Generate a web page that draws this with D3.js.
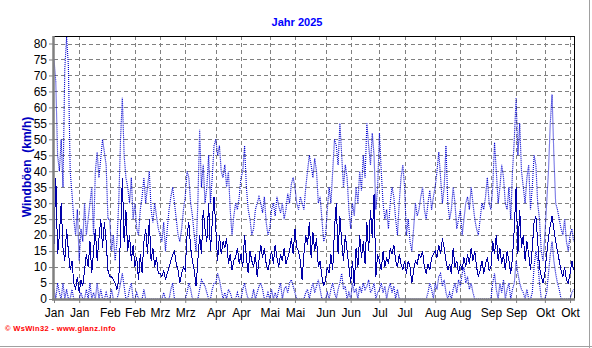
<!DOCTYPE html>
<html><head><meta charset="utf-8">
<script src="https://cdn.jsdelivr.net/npm/d3@7/dist/d3.min.js"></script>
<style>
html,body{margin:0;padding:0;background:#fff;}
svg{display:block;font-family:"Liberation Sans",Arial,sans-serif;}
</style></head>
<body>
<script>
const title = "Jahr 2025";
const yLabel = "Windböen  (km/h)";
const footer = "© WsWin32 - www.glanz.info";
const startDate = "2025-01-01";
const yTicks = [0,5,10,15,20,25,30,35,40,45,50,55,60,65,70,75,80];
const xTickDates = ["2025-01-01","2025-01-15","2025-02-01","2025-02-15","2025-03-01","2025-03-15","2025-04-01","2025-04-15","2025-05-01","2025-05-15","2025-06-01","2025-06-15","2025-07-01","2025-07-15","2025-08-01","2025-08-15","2025-09-01","2025-09-15","2025-10-01","2025-10-15"];
const xTickLabels = ["Jan","Jan","Feb","Feb","Mrz","Mrz","Apr","Apr","Mai","Mai","Jun","Jun","Jul","Jul","Aug","Aug","Sep","Sep","Okt","Okt"];

// daily average gusts (solid)
const avgGust = [
17,38,14,20,30,16,12,22,15,9,12,5,3,7,2,6,4,9,14,10,18,8,15,22,12,19,25,16,24,18,9,
7,7,6,5,3,6,20,38,18,28,15,20,12,17,10,13,6,14,8,18,22,14,25,12,16,10,13,8,
8,7,9,6,8,10,12,14,15,11,9,5,8,10,9,20,24,16,12,9,4,12,20,14,28,22,18,30,15,24,32,
22,12,20,14,18,16,19,11,14,9,12,13,16,11,14,10,20,13,8,15,12,10,14,7,12,17,13,16,11,9,
12,15,11,17,13,10,14,12,16,11,13,15,19,14,22,16,15,12,6,14,20,17,24,13,21,15,19,10,12,7,4,
6,10,8,14,9,22,30,14,26,18,12,20,15,10,5,12,4,16,10,20,13,18,11,24,15,28,19,33,7,14,
12,9,15,10,13,11,16,14,17,12,10,14,11,9,12,8,12,10,5,9,12,11,14,13,15,10,8,11,9,13,14,
15,13,17,14,19,16,12,9,11,8,16,10,12,8,11,9,13,10,14,11,16,12,15,10,7,9,12,8,11,13,9,
10,18,14,20,12,16,11,14,9,15,12,8,13,22,35,14,28,16,20,12,18,14,9,16,24,26,18,10,7,5,
8,14,19,23,26,22,18,15,12,9,7,10,6,5,8,12,9
];
// daily maximum gusts (dotted, upper)
const maxGust = [
75,68,45,40,50,35,72,82,73,40,33,25,20,28,12,22,18,30,20,25,30,35,20,40,46,38,44,50,46,42,25,
25,15,20,12,18,30,50,63,45,38,35,30,38,25,30,22,20,28,32,38,30,35,40,28,24,30,26,22,
20,18,24,15,22,28,32,35,30,25,20,18,22,28,32,40,38,30,26,20,15,30,53,35,42,30,35,45,30,38,48,
50,45,48,40,38,42,35,40,28,20,26,30,28,32,38,40,48,35,28,25,20,22,28,30,32,30,27,32,24,20,
22,28,30,26,32,29,27,30,25,28,33,30,36,38,35,30,28,32,30,28,35,40,45,42,38,44,40,30,32,25,18,
20,28,35,30,40,50,48,42,55,45,35,42,38,28,22,30,26,35,30,40,34,45,38,55,48,42,52,45,28,35,
52,40,30,25,28,22,30,35,32,25,20,30,38,42,35,20,25,18,15,22,30,26,28,32,35,28,25,30,34,28,32,
35,40,46,38,30,35,48,30,25,28,35,30,22,25,28,20,25,30,32,28,35,30,25,22,20,25,30,28,32,38,30,
28,35,49,40,30,35,42,38,30,28,35,25,40,50,63,45,55,40,35,30,38,42,28,35,45,42,30,25,15,12,
20,30,40,55,64,45,30,28,25,22,20,25,18,15,20,22,18
];
// daily minimum gusts (dotted, lower)
const minGust = [
3,0,5,2,0,5,0,3,0,0,3,0,0,0,0,2,0,0,3,0,5,0,2,0,5,0,3,0,0,2,0,
0,3,0,0,0,2,5,8,4,0,0,3,5,0,0,2,0,0,0,3,0,0,0,0,0,0,0,0,
0,0,2,0,0,0,3,5,0,0,0,0,0,0,0,2,5,3,0,0,0,0,3,6,5,4,2,0,0,3,5,
5,8,6,3,0,2,0,3,2,0,0,0,2,0,0,3,5,2,0,0,0,3,0,2,4,5,3,0,0,2,
0,3,0,2,0,3,5,0,3,4,2,5,6,4,2,0,0,0,0,0,2,3,0,3,5,2,4,6,3,0,0,
0,2,0,3,5,2,0,3,5,8,3,4,0,2,0,5,2,3,0,4,2,5,3,4,6,2,3,5,0,2,
3,5,2,4,0,3,5,2,4,0,3,0,0,0,0,0,0,0,0,0,0,0,0,0,0,0,0,2,5,3,0,
5,3,7,8,4,6,2,0,2,0,3,5,2,6,4,8,10,5,7,3,5,2,0,0,0,0,0,0,0,0,0,
0,5,8,3,0,5,2,6,0,3,5,0,3,5,12,8,5,3,2,0,3,0,0,2,10,15,12,5,0,0,
0,2,8,14,18,12,8,5,3,0,0,0,0,0,0,2,3
];

const W = 592, H = 348;
const L = 54, R = 574, T = 36, B = 299;
const svg = d3.select("body").append("svg").attr("width", W).attr("height", H);

const t0 = d3.timeParse("%Y-%m-%d")(startDate);
const dates = avgGust.map((_, i) => d3.timeDay.offset(t0, i));
const tEnd = new Date(t0.getTime() + 289.2 * 86400000);
const x = d3.scaleTime().domain([t0, tEnd]).range([L, R]);
const y = d3.scaleLinear().domain([0, 82.35]).range([B, T]);

// frame lines (right/bottom light gray)
svg.append("line").attr("x1", W - 2.5).attr("x2", W - 2.5).attr("y1", 0).attr("y2", H).attr("stroke", "#a0a0a0").attr("stroke-width", 1);
svg.append("line").attr("x1", 0).attr("x2", W).attr("y1", H - 1.5).attr("y2", H - 1.5).attr("stroke", "#a0a0a0").attr("stroke-width", 1);

// grid
const grid = svg.append("g").attr("shape-rendering", "crispEdges");
yTicks.filter(v => v > 0).forEach(v => {
  grid.append("line").attr("x1", L).attr("x2", R).attr("y1", Math.round(y(v)) + 0.5).attr("y2", Math.round(y(v)) + 0.5)
    .attr("stroke", "#808080").attr("stroke-dasharray", "4,3");
});
xTickDates.forEach(s => {
  const xv = Math.round(x(d3.timeParse("%Y-%m-%d")(s))) + 0.5;
  if (xv > L + 2) grid.append("line").attr("x1", xv).attr("x2", xv).attr("y1", T).attr("y2", B)
    .attr("stroke", "#808080").attr("stroke-dasharray", "4,3");
});

// clip
svg.append("clipPath").attr("id", "clip").append("rect").attr("x", L).attr("y", T).attr("width", R - L).attr("height", B - T);
const lineGen = arr => d3.line().x((d, i) => x(dates[i])).y(d => y(d))(arr);
const plot = svg.append("g").attr("clip-path", "url(#clip)");
plot.append("path").attr("d", lineGen(maxGust)).attr("fill", "none").attr("stroke", "#0000d0").attr("stroke-width", 1.15).attr("stroke-dasharray", "1,1");
plot.append("path").attr("d", lineGen(minGust)).attr("fill", "none").attr("stroke", "#0000d0").attr("stroke-width", 1.15).attr("stroke-dasharray", "1,1");
plot.append("path").attr("d", lineGen(avgGust)).attr("fill", "none").attr("stroke", "#0000a8").attr("stroke-width", 1).attr("shape-rendering", "crispEdges");

// top/right black border
svg.append("line").attr("x1", L).attr("x2", R + 0.5).attr("y1", T + 0.5).attr("y2", T + 0.5).attr("stroke", "#000");
svg.append("line").attr("x1", R + 0.5).attr("x2", R + 0.5).attr("y1", T).attr("y2", B).attr("stroke", "#000");

// axes
const yAxis = d3.axisLeft(y).tickValues(yTicks).tickSize(4).tickPadding(2);
const gy = svg.append("g").attr("transform", `translate(${L - 1},0)`).call(yAxis);
gy.select(".domain").attr("stroke", "#808080").attr("stroke-width", 2.5).attr("d", `M0.5,${T}V${B + 1}`);
gy.selectAll(".tick line").attr("stroke", "#808080");
gy.selectAll(".tick text").attr("font-size", 12).attr("fill", "#000").attr("font-family", "Liberation Sans, Arial, sans-serif");

const xAxis = d3.axisBottom(x).tickValues(xTickDates.map(s => d3.timeParse("%Y-%m-%d")(s)))
  .tickFormat((d, i) => xTickLabels[i]).tickSize(4).tickPadding(5);
const gx = svg.append("g").attr("transform", `translate(0,${B})`).call(xAxis);
gx.select(".domain").attr("stroke", "#808080").attr("stroke-width", 2.5).attr("d", `M${L - 2},0.5H${R + 1}`);
gx.selectAll(".tick line").attr("stroke", "#808080");
gx.selectAll(".tick text").attr("font-size", 12).attr("fill", "#000").attr("font-family", "Liberation Sans, Arial, sans-serif");

// title
svg.append("text").attr("x", 297).attr("y", 26).attr("text-anchor", "middle").attr("font-weight", "bold")
  .attr("font-size", 11).attr("fill", "#0000ff").text(title);
// y label
svg.append("text").attr("transform", "translate(31,167) rotate(-90)").attr("text-anchor", "middle")
  .attr("font-weight", "bold").attr("font-size", 12).attr("fill", "#0000c0").style("white-space", "pre").text(yLabel);
// footer
svg.append("text").attr("x", 5).attr("y", 331).attr("font-size", 7.5).attr("font-weight", "bold")
  .attr("letter-spacing", 0.35).attr("fill", "#ff0000").text(footer);
</script>
</body></html>
